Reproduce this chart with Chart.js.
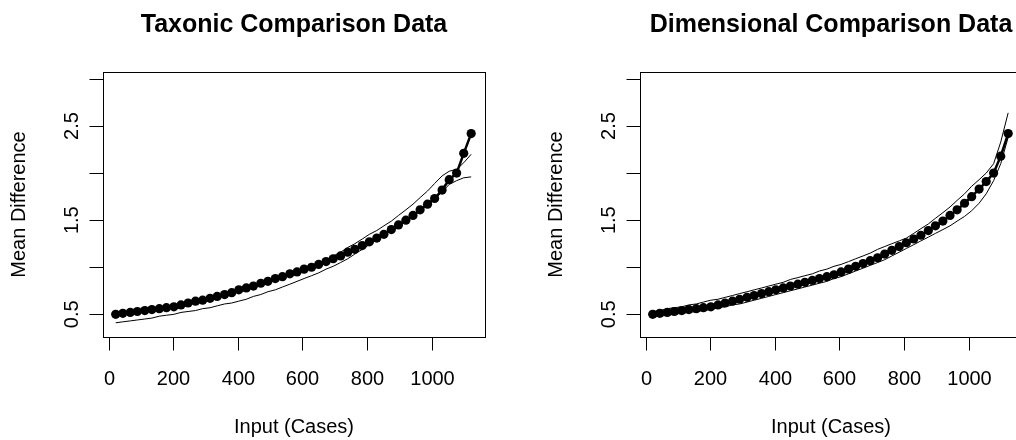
<!DOCTYPE html>
<html>
<head>
<meta charset="utf-8">
<title>Comparison Data</title>
<script src="https://cdn.jsdelivr.net/npm/chart.js@4.4.1/dist/chart.umd.min.js"></script>
<style>
    html, body { margin: 0; padding: 0; background: #ffffff; overflow: hidden; }
    body { width: 1016px; height: 440px; position: relative; }
    canvas { position: absolute; top: 0; }
    #taxonicChart { left: 0; }
    #dimensionalChart { left: 537px; }
</style>
</head>
<body>
<canvas id="taxonicChart" width="537" height="440"></canvas>
<canvas id="dimensionalChart" width="537" height="440"></canvas>
<script>
// Input sizes (cases) shared by both panels
const caseInputs = [22, 44, 67, 89, 112, 134, 157, 179, 202, 224,
    246, 269, 291, 314, 336, 359, 381, 403, 426, 448,
    471, 493, 516, 538, 561, 583, 605, 628, 650, 673,
    695, 718, 740, 762, 785, 807, 830, 852, 875, 897,
    920, 942, 964, 987, 1009, 1032, 1054, 1077, 1099, 1122];

// Taxonic panel
const taxonicMean = [0.50, 0.51, 0.52, 0.53, 0.54, 0.55, 0.56, 0.57, 0.58, 0.60,
    0.62, 0.64, 0.65, 0.67, 0.69, 0.71, 0.73, 0.76, 0.78, 0.80,
    0.83, 0.85, 0.88, 0.90, 0.93, 0.95, 0.98, 1.00, 1.03, 1.06,
    1.09, 1.12, 1.16, 1.19, 1.23, 1.27, 1.31, 1.35, 1.40, 1.45,
    1.50, 1.55, 1.61, 1.67, 1.73, 1.82, 1.93, 2.00, 2.21, 2.42];
const taxonicUpper = [0.51, 0.52, 0.53, 0.54, 0.55, 0.56, 0.57, 0.58, 0.59, 0.61,
    0.63, 0.65, 0.66, 0.68, 0.70, 0.72, 0.74, 0.77, 0.79, 0.81,
    0.84, 0.86, 0.89, 0.91, 0.94, 0.96, 0.99, 1.02, 1.05, 1.08,
    1.12, 1.16, 1.21, 1.25, 1.30, 1.35, 1.39, 1.44, 1.49, 1.55,
    1.61, 1.67, 1.74, 1.81, 1.89, 1.97, 2.02, 2.04, 2.11, 2.20];
const taxonicLower = [0.41, 0.42, 0.43, 0.44, 0.45, 0.46, 0.48, 0.49, 0.50, 0.52,
    0.53, 0.54, 0.56, 0.57, 0.59, 0.61, 0.62, 0.64, 0.66, 0.69,
    0.71, 0.74, 0.76, 0.79, 0.82, 0.85, 0.88, 0.91, 0.94, 0.98,
    1.01, 1.05, 1.09, 1.14, 1.19, 1.24, 1.29, 1.34, 1.39, 1.44,
    1.49, 1.54, 1.60, 1.66, 1.72, 1.80, 1.88, 1.92, 1.95, 1.96];

// Dimensional panel
const dimensionalMean = [0.50, 0.51, 0.52, 0.53, 0.54, 0.55, 0.56, 0.57, 0.58, 0.60,
    0.62, 0.64, 0.66, 0.68, 0.70, 0.72, 0.74, 0.76, 0.78, 0.80,
    0.82, 0.84, 0.86, 0.88, 0.90, 0.92, 0.95, 0.98, 1.01, 1.04,
    1.07, 1.10, 1.14, 1.18, 1.22, 1.26, 1.30, 1.34, 1.39, 1.44,
    1.49, 1.55, 1.61, 1.68, 1.75, 1.83, 1.91, 2.00, 2.18, 2.42];
const dimensionalUpper = [0.53, 0.54, 0.56, 0.57, 0.58, 0.60, 0.61, 0.63, 0.65, 0.66,
    0.68, 0.70, 0.72, 0.74, 0.76, 0.78, 0.80, 0.82, 0.84, 0.87,
    0.89, 0.91, 0.93, 0.96, 0.98, 1.01, 1.03, 1.06, 1.09, 1.12,
    1.15, 1.19, 1.22, 1.25, 1.28, 1.31, 1.36, 1.41, 1.46, 1.52,
    1.58, 1.64, 1.71, 1.78, 1.86, 1.93, 2.00, 2.10, 2.33, 2.64];
const dimensionalLower = [0.47, 0.48, 0.49, 0.50, 0.51, 0.52, 0.53, 0.54, 0.55, 0.57,
    0.58, 0.60, 0.61, 0.63, 0.65, 0.67, 0.69, 0.71, 0.73, 0.75,
    0.77, 0.79, 0.81, 0.83, 0.85, 0.88, 0.90, 0.93, 0.96, 0.99,
    1.02, 1.05, 1.08, 1.12, 1.16, 1.20, 1.24, 1.28, 1.32, 1.36,
    1.40, 1.44, 1.49, 1.54, 1.60, 1.68, 1.78, 1.92, 2.10, 2.38];

// Axis ticks and labels
const xTickValues = [0, 200, 400, 600, 800, 1000];
const yTickValues = [0.5, 1.0, 1.5, 2.0, 2.5, 3.0];
const yLabelValues = [0.5, 1.5, 2.5];
const xAxisTitle = 'Input (Cases)';
const yAxisTitle = 'Mean Difference';

const FONT = '"Liberation Sans", Arial, sans-serif';

document.addEventListener('DOMContentLoaded', function() {
    createPanel('taxonicChart', 'Taxonic Comparison Data', taxonicMean, taxonicUpper, taxonicLower);
    createPanel('dimensionalChart', 'Dimensional Comparison Data', dimensionalMean, dimensionalUpper, dimensionalLower);
});

// Draws the box, ticks, labels and title the way base R graphics does
const baseAxesPlugin = {
    id: 'baseAxes',
    afterDraw(chart, args, opts) {
        const ctx = chart.ctx;
        const area = chart.chartArea;
        const xScale = chart.scales.x;
        const yScale = chart.scales.y;
        const left = Math.round(area.left) + 0.5;
        const right = Math.round(area.right) + 0.5;
        const top = Math.round(area.top) + 0.5;
        const bottom = Math.round(area.bottom) + 0.5;
        const midX = (area.left + area.right) / 2;
        const midY = (area.top + area.bottom) / 2;

        ctx.save();
        ctx.strokeStyle = '#000000';
        ctx.fillStyle = '#000000';
        ctx.lineWidth = 1;
        ctx.strokeRect(left, top, right - left, bottom - top);

        ctx.font = '20px ' + FONT;
        ctx.textAlign = 'center';
        ctx.textBaseline = 'alphabetic';

        xTickValues.forEach(v => {
            const px = Math.round(xScale.getPixelForValue(v)) + 0.5;
            ctx.beginPath();
            ctx.moveTo(px, bottom);
            ctx.lineTo(px, bottom + 13);
            ctx.stroke();
            ctx.fillText(String(v), px, area.bottom + 48);
        });

        yTickValues.forEach(v => {
            const py = Math.round(yScale.getPixelForValue(v)) + 0.5;
            ctx.beginPath();
            ctx.moveTo(left - 14, py);
            ctx.lineTo(left, py);
            ctx.stroke();
        });

        yLabelValues.forEach(v => {
            ctx.save();
            ctx.translate(area.left - 25, yScale.getPixelForValue(v));
            ctx.rotate(-Math.PI / 2);
            ctx.fillText(v.toFixed(1), 0, 0);
            ctx.restore();
        });

        ctx.fillText(xAxisTitle, midX, area.bottom + 96);

        ctx.save();
        ctx.translate(area.left - 78, midY);
        ctx.rotate(-Math.PI / 2);
        ctx.fillText(yAxisTitle, 0, 0);
        ctx.restore();

        ctx.font = 'bold 25px ' + FONT;
        ctx.fillText(opts.text, midX, area.top - 40.5);
        ctx.restore();
    }
};

function toPoints(values) {
    return values.map((v, i) => ({ x: caseInputs[i], y: v }));
}

function createPanel(canvasId, title, meanValues, upperValues, lowerValues) {
    const ctx = document.getElementById(canvasId).getContext('2d');

    new Chart(ctx, {
        type: 'scatter',
        data: {
            datasets: [{
                data: toPoints(meanValues),
                showLine: true,
                borderColor: '#000000',
                backgroundColor: '#000000',
                borderWidth: 2.5,
                pointRadius: 4.6,
                pointBorderWidth: 0
            }, {
                data: toPoints(upperValues),
                showLine: true,
                borderColor: '#000000',
                borderWidth: 1,
                pointRadius: 0
            }, {
                data: toPoints(lowerValues),
                showLine: true,
                borderColor: '#000000',
                borderWidth: 1,
                pointRadius: 0
            }]
        },
        options: {
            responsive: false,
            animation: false,
            devicePixelRatio: 1,
            layout: {
                padding: { left: 103, right: 52, top: 72, bottom: 103 }
            },
            plugins: {
                legend: { display: false },
                tooltip: { enabled: false },
                baseAxes: { text: title }
            },
            scales: {
                x: { type: 'linear', min: -17.3, max: 1164.8, display: false },
                y: { type: 'linear', min: 0.259, max: 3.074, display: false }
            }
        },
        plugins: [baseAxesPlugin]
    });
}
</script>
</body>
</html>
